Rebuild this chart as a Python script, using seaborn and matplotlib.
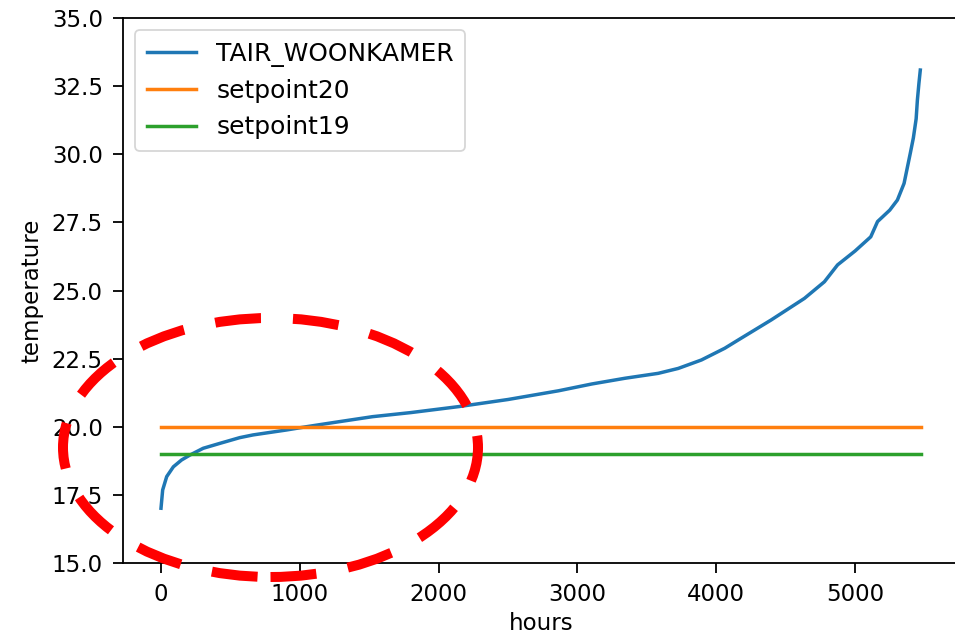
import matplotlib
matplotlib.use("Agg")
import matplotlib.pyplot as plt
from matplotlib.patches import Ellipse
import numpy as np
import pandas as pd
import seaborn as sns

# Sorted living-room air temperature (duration curve), readings per hour index
hours = [0, 12, 41, 89, 148, 208, 304, 424, 567, 663, 902, 1046, 1250, 1524,
         1800, 2146, 2500, 2864, 3104, 3343, 3582, 3726, 3893, 4061, 4157,
         4396, 4635, 4779, 4874, 5000, 5113, 5162, 5250, 5305, 5353, 5398,
         5420, 5440, 5449, 5460, 5470]
tair = [17.01, 17.68, 18.17, 18.53, 18.78, 18.96, 19.21, 19.39, 19.60, 19.70,
        19.88, 20.00, 20.16, 20.37, 20.52, 20.74, 21.0, 21.32, 21.57, 21.78,
        21.96, 22.14, 22.45, 22.88, 23.18, 23.92, 24.71, 25.32, 25.94, 26.45,
        26.97, 27.53, 27.95, 28.32, 28.93, 30.04, 30.6, 31.3, 31.99, 32.6,
        33.09]

setpoint_hours = [0, 5475]
setpoint20 = [20, 20]
setpoint19 = [19, 19]

W, H, DPI = 955, 639, 100
FS = 16.5
LEG_FS = 17.9
LW = 2.5

plt.rcParams.update({
    "font.family": ["DejaVu Sans"],
    "font.size": FS,
    "axes.linewidth": 1.3,
    "xtick.major.width": 1.3,
    "ytick.major.width": 1.3,
    "xtick.major.size": 7.5,
    "ytick.major.size": 7.5,
    "xtick.major.pad": 7,
    "ytick.major.pad": 7,
})

fig = plt.figure(figsize=(W / DPI, H / DPI), dpi=DPI)
ax = fig.add_axes([123 / W, 1 - 563 / H, 836 / W, 545 / H])

tab = sns.color_palette("tab10")
df_t = pd.DataFrame({"hours": hours, "temperature": tair})
df_s20 = pd.DataFrame({"hours": setpoint_hours, "temperature": setpoint20})
df_s19 = pd.DataFrame({"hours": setpoint_hours, "temperature": setpoint19})

sns.lineplot(data=df_t, x="hours", y="temperature", ax=ax, color=tab[0],
             linewidth=LW, label="TAIR_WOONKAMER", estimator=None, sort=False)
sns.lineplot(data=df_s20, x="hours", y="temperature", ax=ax, color=tab[1],
             linewidth=LW, label="setpoint20", estimator=None, sort=False)
sns.lineplot(data=df_s19, x="hours", y="temperature", ax=ax, color=tab[2],
             linewidth=LW, label="setpoint19", estimator=None, sort=False)

ax.set_ylim(15, 35)
ax.set_yticks(np.arange(15, 35.1, 2.5))
ax.set_xticks([0, 1000, 2000, 3000, 4000, 5000])
ax.set_xlabel("hours", labelpad=4)
ax.set_ylabel("temperature", labelpad=6)

leg = ax.legend(loc="upper left", fontsize=LEG_FS, handlelength=2.0,
                borderpad=0.45, labelspacing=0.5, handletextpad=0.8,
                borderaxespad=0.5)
leg.get_frame().set_linewidth(1.3)

# Dashed highlight around the low-temperature region
ell = Ellipse((270.5 / W, 1 - 447.5 / H), 415 / W, 259 / H,
              transform=fig.transFigure, fill=False, edgecolor="#ff0000",
              linewidth=7.2, linestyle=(0, (4.6, 3.2)), clip_on=False,
              zorder=10)
fig.add_artist(ell)

fig.savefig("out.png", dpi=DPI)
